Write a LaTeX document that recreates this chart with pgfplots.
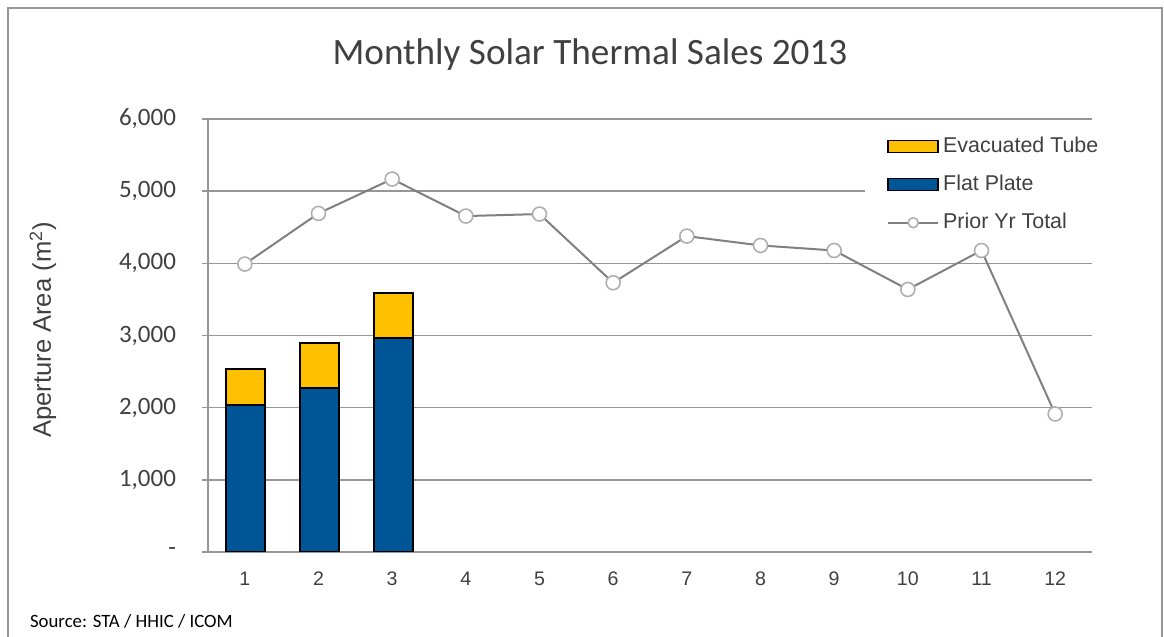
\documentclass[border=0pt]{standalone}
\usepackage{pgfplots}
\pgfplotsset{compat=1.18}
\usepackage{fontspec}
\setmainfont{Carlito}
\newfontfamily\arial{Liberation Sans}
\definecolor{evac}{RGB}{255,192,0}
\definecolor{flat}{RGB}{0,85,150}
\definecolor{gridg}{RGB}{150,150,150}
\definecolor{lineg}{RGB}{128,128,128}
\definecolor{markg}{RGB}{175,175,175}
\definecolor{txt}{RGB}{64,64,64}
\pgfplotsset{
  barleg/.style={area legend, legend image code/.code={\draw[##1] (0pt,-3pt) rectangle (25pt,3pt);}},
  lineleg/.style={legend image code/.code={\draw[##1, mark size=2.5pt, mark repeat=2, mark phase=2] plot coordinates {(0pt,0pt) (12.5pt,0pt) (25pt,0pt)};}},
}
\begin{document}
\begin{tikzpicture}
\useasboundingbox (0,0) rectangle (582pt,318.5pt);
\draw[gridg, line width=1pt] (4pt,0) -- (4pt,314.5pt) -- (581pt,314.5pt) -- (581pt,0);
\node[txt, font=\fontsize{18.6}{21}\selectfont] at (295pt,291pt) {Monthly Solar Thermal Sales 2013};
\node[black, font=\fontsize{9.4}{11}\selectfont, anchor=west] at (11.5pt,8pt) {Source: STA / HHIC / ICOM};
\node[txt, font=\arial\fontsize{12.8}{15}\selectfont, rotate=90] at (21.5pt,153.5pt) {Aperture Area (m\textsuperscript{2})};
\begin{axis}[
  at={(104pt,42.5pt)}, anchor=south west,
  scale only axis, width=442pt, height=216.5pt,
  xmin=0.5, xmax=12.5, ymin=0, ymax=6000,
  axis x line*=bottom, axis y line*=left,
  axis line style={gridg, line width=0.8pt},
  xtick={1,...,12},
  xticklabels={1,2,3,4,5,6,7,8,9,10,11,12},
  extra x ticks={0.5,1.5,...,12.5},
  extra x tick labels={},
  extra x tick style={major tick length=6pt, tick style={gridg, line width=0.8pt}},
  x tick style={draw=none},
  xticklabel style={font=\arial\fontsize{9.8}{11}\selectfont, txt, yshift=-3.5pt},
  ytick={0,1000,...,6000},
  yticklabels={{-},{1,000},{2,000},{3,000},{4,000},{5,000},{6,000}},
  yticklabel style={font=\fontsize{12.5}{14}\selectfont, txt, xshift=-9.5pt},
  y tick style={gridg, line width=0.8pt},
  tick align=outside, major tick length=3pt,
  ymajorgrids, major grid style={gridg, line width=0.8pt},
  legend style={at={(0.743,0.975)}, anchor=north west, draw=none, fill=white,
     font=\arial\fontsize{10.7}{12}\selectfont, text=txt, row sep=5.8pt,
     inner xsep=11pt, inner ysep=1.5pt},
  legend cell align=left,
]
\addplot[ybar, bar width=19.5pt, bar shift=0.5pt, fill=evac, draw=black, line width=0.9pt, barleg]
  coordinates {(1,2532) (2,2896) (3,3584)};
\addlegendentry{Evacuated Tube}
\addplot[ybar, bar width=19.5pt, bar shift=0.5pt, fill=flat, draw=black, line width=0.9pt, barleg]
  coordinates {(1,2037) (2,2277) (3,2961)};
\addlegendentry{Flat Plate}
\addplot[lineg, line width=1pt, mark=*, mark size=3.5pt,
  mark options={fill=white, draw=markg, line width=0.8pt}, lineleg]
  coordinates {(1,3990) (2,4692) (3,5168) (4,4655) (5,4683) (6,3731) (7,4377) (8,4248) (9,4178) (10,3638) (11,4178) (12,1913)};
\addlegendentry{Prior Yr Total}
\end{axis}
\end{tikzpicture}
\end{document}
